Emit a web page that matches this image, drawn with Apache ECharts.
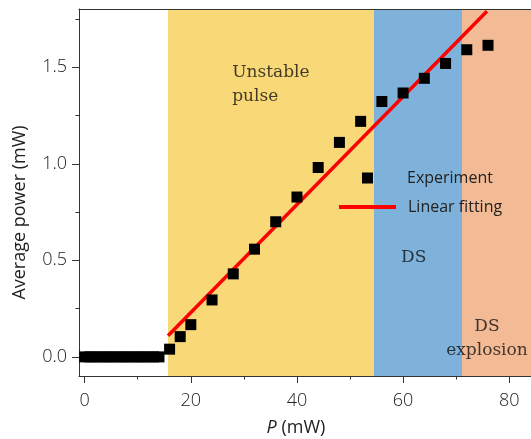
<!DOCTYPE html>
<html>
<head>
<meta charset="utf-8">
<script src="https://cdn.jsdelivr.net/npm/echarts@6/dist/echarts.min.js"></script>
<style>
html,body{margin:0;padding:0;background:#fff;}
#chart{width:531px;height:439px;}
</style>
</head>
<body>
<div id="chart"></div>
<script>
// ---- data ----
const expP = [0,1,2,3,4,5,6,7,8,9,10,11,12,13,14,16,18,20,24,28,32,36,40,44,48,52,56,60,64,68,72,76];
const expPower = [0,0,0,0,0,0,0,0,0,0,0,0,0,0,0,0.04,0.105,0.167,0.295,0.43,0.558,0.70,0.828,0.981,1.111,1.22,1.323,1.367,1.443,1.52,1.591,1.614];
const fitP = [15.7, 75.8];
const fitPower = [0.109, 1.79];
const regionNames = ['Unstable pulse', 'DS', 'DS explosion'];
const regionStart = [15.7, 54.5, 71.1];
const regionEnd = [54.5, 71.1, 84.1];
const regionLabels = ['Unstable\npulse', 'DS', 'DS\nexplosion'];
const regionLabelP = [27.8, 62.0, 75.8];
const regionLabelPower = [1.413, 0.515, 0.093];
const xTicks = [0, 20, 40, 60, 80];
const xMinorTicks = [10, 30, 50, 70];
const yTicks = [0, 0.5, 1.0, 1.5];
const yMinorTicks = [0.25, 0.75, 1.25, 1.75];
const xRange = [-1.07, 84.1];
const yRange = [-0.099, 1.802];

// ---- styles ----
const regionColors = ['#F8D877', '#7EB2DB', '#F2BA95'];
const axisColor = '#333';
const tickFont = { fontFamily: 'Open Sans', fontSize: 18, color: '#222', fontWeight: 300 };

const chart = echarts.init(document.getElementById('chart'), null, { renderer: 'canvas' });

const baseX = { type: 'value', min: xRange[0], max: xRange[1], splitLine: { show: false }, z: 3 };
const baseY = { type: 'value', min: yRange[0], max: yRange[1], splitLine: { show: false }, z: 3 };

const option = {
  animation: false,
  backgroundColor: '#fff',
  grid: { left: 79, top: 9, right: 0, bottom: 63, containLabel: false, outerBoundsMode: 'none' },
  legend: [
    {
      data: [{ name: 'Experiment', icon: 'rect' }],
      left: 357, top: 165, itemWidth: 11, itemHeight: 11,
      selectedMode: false,
      textStyle: { fontFamily: 'Open Sans', fontSize: 16, color: '#222', padding: [0, 0, 0, 29] }
    },
    {
      data: [{ name: 'Linear fitting', icon: 'rect' }],
      left: 334, top: 194, itemWidth: 57, itemHeight: 4,
      selectedMode: false,
      textStyle: { fontFamily: 'Open Sans', fontSize: 16, color: '#222', padding: [0, 0, 0, 7] }
    }
  ],
  xAxis: [
    Object.assign({}, baseX, {
      position: 'bottom',
      axisLine: { show: true, onZero: false, lineStyle: { color: axisColor, width: 1 } },
      axisTick: { show: true, customValues: xTicks, length: 7, lineStyle: { color: axisColor } },
      axisLabel: Object.assign({ customValues: xTicks, margin: 16 }, tickFont),
      name: '{i|P} (mW)',
      nameLocation: 'middle',
      nameGap: 43,
      nameTextStyle: {
        fontFamily: 'Open Sans', fontSize: 18, color: '#222', padding: [0, 18, 0, 0],
        rich: { i: { fontFamily: 'Open Sans', fontSize: 18, fontStyle: 'italic', color: '#222' } }
      }
    }),
    Object.assign({}, baseX, {
      position: 'bottom',
      axisLine: { show: false, onZero: false },
      axisTick: { show: true, customValues: xMinorTicks, length: 3.5, lineStyle: { color: axisColor } },
      axisLabel: { show: false }
    }),
    Object.assign({}, baseX, {
      position: 'top',
      axisLine: { show: true, onZero: false, lineStyle: { color: axisColor, width: 1 } },
      axisTick: { show: false },
      axisLabel: { show: false }
    })
  ],
  yAxis: [
    Object.assign({}, baseY, {
      position: 'left',
      axisLine: { show: true, onZero: false, lineStyle: { color: axisColor, width: 1 } },
      axisTick: { show: true, customValues: yTicks, length: 7, lineStyle: { color: axisColor } },
      axisLabel: Object.assign({ customValues: yTicks, margin: 12, formatter: v => v.toFixed(1) }, tickFont),
      name: 'Average power (mW)',
      nameLocation: 'middle',
      nameGap: 50,
      nameTextStyle: { fontFamily: 'Open Sans', fontSize: 18, color: '#222', padding: [0, 40, 0, 0] }
    }),
    Object.assign({}, baseY, {
      position: 'left',
      axisLine: { show: false, onZero: false },
      axisTick: { show: true, customValues: yMinorTicks, length: 3.5, lineStyle: { color: axisColor } },
      axisLabel: { show: false }
    })
  ],
  series: [
    {
      name: 'regions',
      type: 'scatter',
      symbolSize: 0,
      silent: true,
      z: 1,
      data: regionLabels.map((t, i) => ({
        value: [regionLabelP[i], regionLabelPower[i]],
        name: t,
        label: { align: i === 0 ? 'left' : 'center' }
      })),
      label: {
        show: true,
        position: 'inside',
        formatter: p => p.name,
        fontFamily: 'DejaVu Serif',
        fontSize: 17,
        lineHeight: 24,
        color: '#111',
        verticalAlign: 'middle'
      },
      markArea: {
        silent: true,
        z: 1,
        data: regionNames.map((n, i) => [
          { name: n, xAxis: regionStart[i], itemStyle: { color: regionColors[i], opacity: 1 } },
          { xAxis: regionEnd[i] }
        ]),
        label: { show: false }
      }
    },
    {
      name: 'Linear fitting',
      type: 'line',
      z: 4,
      data: fitP.map((p, i) => [p, fitPower[i]]),
      showSymbol: false,
      symbol: 'none',
      color: '#FF0000',
      lineStyle: { color: '#FF0000', width: 3.5 }
    },
    {
      name: 'Experiment',
      type: 'scatter',
      z: 5,
      symbol: 'rect',
      symbolSize: 11,
      color: '#000',
      itemStyle: { color: '#000', opacity: 1 },
      data: expP.map((p, i) => [p, expPower[i]])
    }
  ]
};
chart.setOption(option);
</script>
</body>
</html>
